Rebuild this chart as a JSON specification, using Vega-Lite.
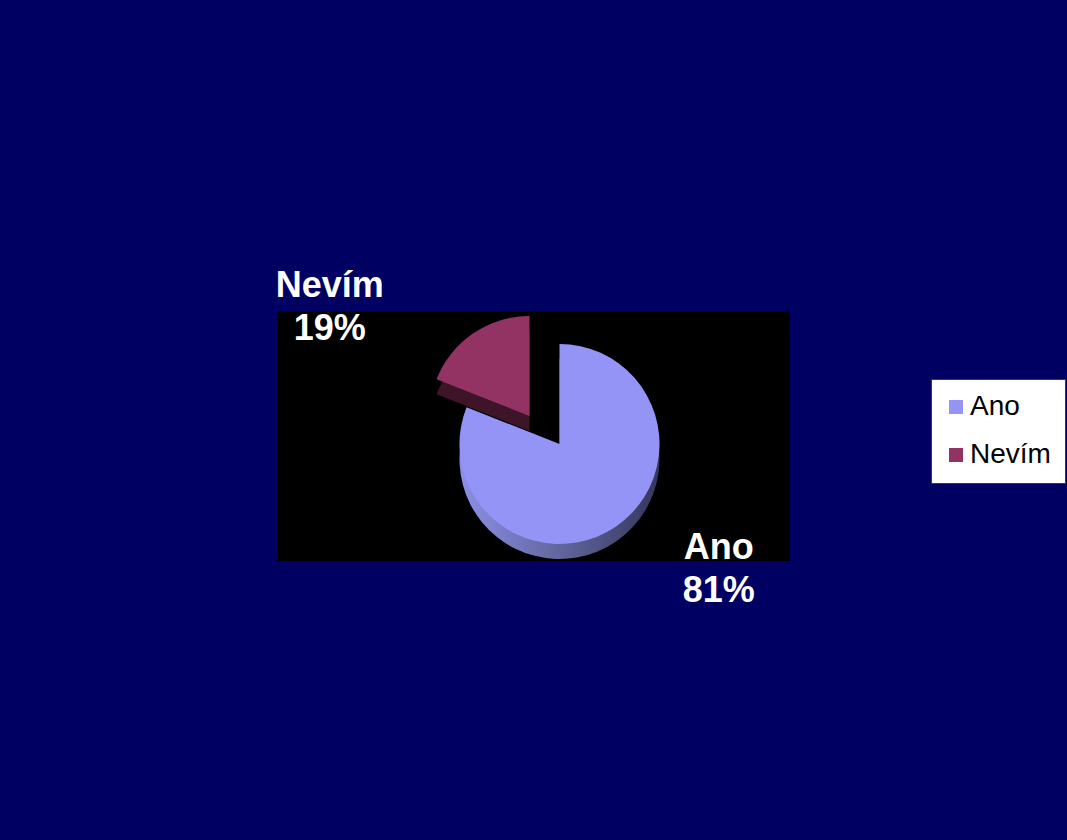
{
  "$schema": "https://vega.github.io/schema/vega-lite/v6.json",
  "width": 513,
  "height": 250,
  "autosize": {"type": "none"},
  "padding": {"left": 277, "top": 311, "right": 277, "bottom": 279},
  "background": "#000062",
  "view": {"fill": "#000000", "stroke": null},
  "data": {"values": [
    {"category": "Ano", "value": 81},
    {"category": "Nevím", "value": 19}
  ]},
  "transform": [
    {"stack": "value", "groupby": [], "sort": [{"field": "category", "order": "ascending"}], "as": ["v0", "v1"]},
    {"calculate": "(datum.v0 + datum.v1) / 2", "as": "mid"},
    {"calculate": "datum.category + '\\n' + datum.value + '%'", "as": "label"}
  ],
  "layer": [
    {
      "transform": [{"filter": "datum.category === 'Ano'"}],
      "mark": {"type": "arc", "outerRadius": 100, "xOffset": 26, "yOffset": 23,
        "fill": {"gradient": "linear", "x1": 0, "y1": 0, "x2": 1, "y2": 0,
          "stops": [{"offset": 0, "color": "#8c90e8"}, {"offset": 0.5, "color": "#62669e"}, {"offset": 1, "color": "#34365a"}]}},
      "encoding": {
        "theta": {"field": "v0", "type": "quantitative", "scale": {"domain": [0, 100]}},
        "theta2": {"field": "v1"}
      }
    },
    {
      "transform": [{"filter": "datum.category === 'Ano'"}],
      "mark": {"type": "arc", "outerRadius": 100, "xOffset": 26, "yOffset": 8},
      "encoding": {
        "theta": {"field": "v0", "type": "quantitative", "scale": {"domain": [0, 100]}},
        "theta2": {"field": "v1"},
        "color": {"field": "category", "type": "nominal",
          "scale": {"domain": ["Ano", "Nevím"], "range": ["#9494f6", "#933363"]},
          "legend": {"title": null, "orient": "none", "legendX": 654, "legendY": 68,
            "fillColor": "#ffffff", "strokeColor": "#3a3a3a", "padding": 14,
            "symbolType": "square", "symbolSize": 196, "symbolStrokeWidth": 0,
            "labelFont": "Liberation Sans", "labelFontSize": 28, "labelColor": "#000000",
            "labelOffset": 0, "rowPadding": 20, "symbolOffset": -3}}
      }
    },
    {
      "transform": [{"filter": "datum.category === 'Nevím'"}],
      "mark": {"type": "arc", "outerRadius": 100, "xOffset": -4, "yOffset": -5, "fill": "#3d1428"},
      "encoding": {
        "theta": {"field": "v0", "type": "quantitative", "scale": {"domain": [0, 100]}},
        "theta2": {"field": "v1"}
      }
    },
    {
      "transform": [{"filter": "datum.category === 'Nevím'"}],
      "mark": {"type": "arc", "outerRadius": 100, "xOffset": -4, "yOffset": -20},
      "encoding": {
        "theta": {"field": "v0", "type": "quantitative", "scale": {"domain": [0, 100]}},
        "theta2": {"field": "v1"},
        "color": {"field": "category", "type": "nominal"}
      }
    },
    {
      "transform": [{"filter": "datum.category === 'Ano'"}],
      "mark": {"type": "text", "radius": 150, "xOffset": 26, "yOffset": 8, "dx": 75, "dy": -20,
        "lineBreak": "\n", "lineHeight": 43, "font": "Liberation Sans", "fontSize": 36,
        "fontWeight": "bold", "fill": "#ffffff", "align": "center", "baseline": "middle"},
      "encoding": {
        "theta": {"field": "mid", "type": "quantitative", "scale": {"domain": [0, 100]}},
        "text": {"field": "label"}
      }
    },
    {
      "transform": [{"filter": "datum.category === 'Nevím'"}],
      "mark": {"type": "text", "radius": 133, "xOffset": -4, "yOffset": -20, "dx": -125, "dy": -20,
        "lineBreak": "\n", "lineHeight": 43, "font": "Liberation Sans", "fontSize": 36,
        "fontWeight": "bold", "fill": "#ffffff", "align": "center", "baseline": "middle"},
      "encoding": {
        "theta": {"field": "mid", "type": "quantitative", "scale": {"domain": [0, 100]}},
        "text": {"field": "label"}
      }
    }
  ]
}
